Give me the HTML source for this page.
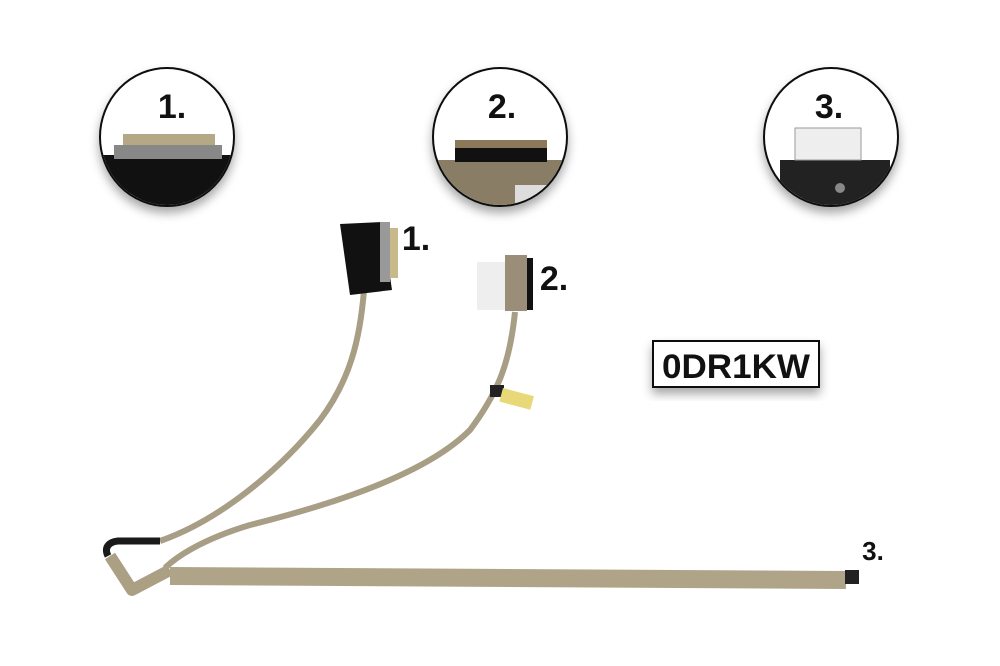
<!DOCTYPE html>
<html><head><style>body{margin:0;background:#fff}svg{display:block}</style></head><body>
<svg width="1000" height="666" viewBox="0 0 1000 666" xmlns="http://www.w3.org/2000/svg">
<defs>
<filter id="sh" x="-20%" y="-20%" width="140%" height="150%"><feDropShadow dx="0" dy="6" stdDeviation="5" flood-color="#000" flood-opacity="0.35"/></filter>
<clipPath id="c1"><ellipse cx="167" cy="137" rx="66" ry="68"/></clipPath>
<clipPath id="c2"><ellipse cx="500" cy="137" rx="66" ry="68"/></clipPath>
<clipPath id="c3"><ellipse cx="831" cy="137" rx="66" ry="68"/></clipPath>
</defs>
<g filter="url(#sh)">
<ellipse cx="167" cy="137" rx="67" ry="69" fill="#fff" stroke="#111" stroke-width="2"/>
<ellipse cx="500" cy="137" rx="67" ry="69" fill="#fff" stroke="#111" stroke-width="2"/>
<ellipse cx="831" cy="137" rx="67" ry="69" fill="#fff" stroke="#111" stroke-width="2"/>
</g>
<g clip-path="url(#c1)">
<rect x="100" y="155" width="140" height="60" fill="#111"/>
<rect x="114" y="145" width="108" height="14" fill="#888"/>
<rect x="123" y="134" width="92" height="11" fill="#b5a887"/>
</g>
<g clip-path="url(#c2)">
<rect x="430" y="160" width="140" height="50" fill="#8a7d66"/>
<rect x="455" y="148" width="92" height="14" fill="#111"/>
<rect x="455" y="140" width="92" height="8" fill="#8a7a5a"/>
<rect x="515" y="185" width="40" height="20" fill="#ddd"/>
</g>
<g clip-path="url(#c3)">
<rect x="780" y="160" width="110" height="60" fill="#222"/>
<rect x="795" y="128" width="66" height="32" fill="#eee" stroke="#999"/>
<circle cx="840" cy="188" r="5" fill="#888"/>
</g>
<g font-family="Liberation Sans, sans-serif" font-weight="bold" font-size="34" fill="#111" text-anchor="middle">
<text x="172" y="118">1.</text>
<text x="502" y="118">2.</text>
<text x="829" y="118">3.</text>
<text x="416" y="250">1.</text>
<text x="554" y="290">2.</text>
<text x="873" y="560" font-size="26">3.</text>
</g>
<!-- cables -->
<path d="M364 290 C 360 340, 350 380, 320 420 C 280 470, 220 520, 160 541" fill="none" stroke="#a89e85" stroke-width="6"/>
<path d="M160 541 L 118 541 C 108 542, 104 548, 108 556" fill="none" stroke="#1a1a1a" stroke-width="7"/>
<path d="M515 312 C 510 360, 500 390, 470 430 C 430 470, 350 500, 250 525 C 200 540, 175 558, 165 568" fill="none" stroke="#a89e85" stroke-width="6"/>
<path d="M110 556 L 132 590 L 170 570" fill="none" stroke="#aba084" stroke-width="12" stroke-linejoin="round"/>
<path d="M170 576 L 846 580" stroke="#b0a488" stroke-width="18"/>
<rect x="845" y="570" width="14" height="14" fill="#222"/>
<!-- connector 1 -->
<polygon points="340,224 382,222 392,290 350,295" fill="#111"/>
<rect x="380" y="222" width="10" height="60" fill="#999"/>
<rect x="390" y="228" width="8" height="50" fill="#c8b98a"/>
<!-- connector 2 -->
<rect x="477" y="262" width="30" height="48" fill="#eee"/>
<rect x="505" y="255" width="22" height="56" fill="#9a8e78"/>
<rect x="527" y="258" width="6" height="52" fill="#111"/>
<rect x="490" y="385" width="14" height="12" fill="#222"/>
<rect x="503" y="388" width="32" height="14" fill="#e8d878" transform="rotate(15 503 388)"/>
<!-- label -->
<g filter="url(#sh)"><rect x="653" y="341" width="166" height="46" fill="#fff" stroke="#111" stroke-width="2"/></g>
<text x="736" y="378" font-family="Liberation Sans, sans-serif" font-weight="bold" font-size="34" fill="#111" text-anchor="middle" textLength="148" lengthAdjust="spacingAndGlyphs">0DR1KW</text>
</svg>
</body></html>
